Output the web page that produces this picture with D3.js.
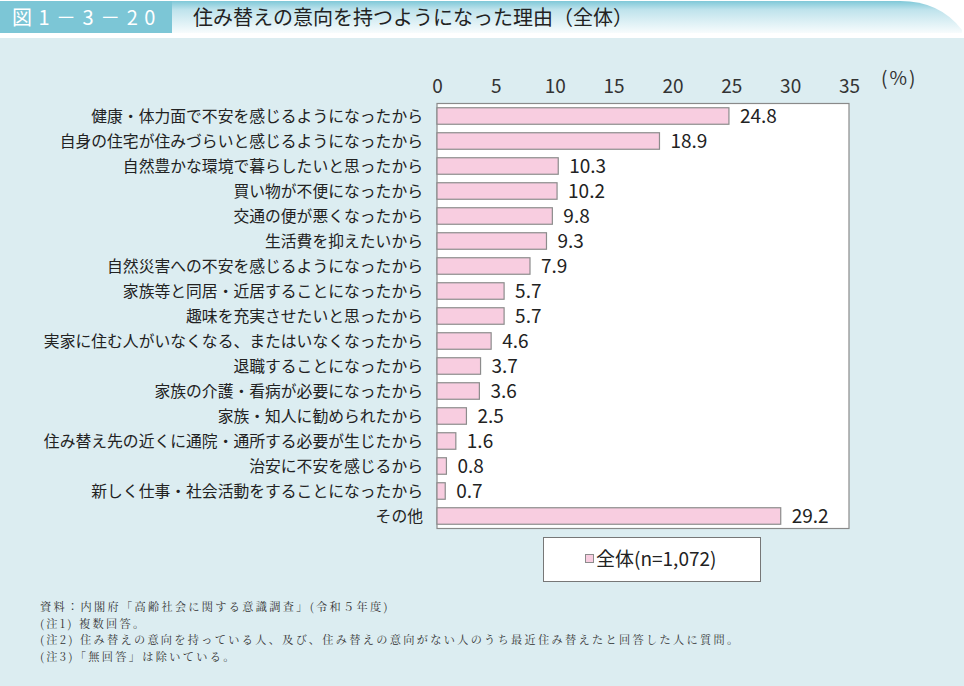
<!DOCTYPE html>
<html><head><meta charset="utf-8">
<script src="https://cdn.jsdelivr.net/npm/d3@7"></script>
<style>
body{margin:0;padding:0;background:#fff;}
svg{display:block;font-family:"Noto Sans CJK JP","Noto Sans",sans-serif;}
</style></head>
<body><svg id="c" width="964" height="686"></svg>
<script>
const categories = [
 "健康・体力面で不安を感じるようになったから",
 "自身の住宅が住みづらいと感じるようになったから",
 "自然豊かな環境で暮らしたいと思ったから",
 "買い物が不便になったから",
 "交通の便が悪くなったから",
 "生活費を抑えたいから",
 "自然災害への不安を感じるようになったから",
 "家族等と同居・近居することになったから",
 "趣味を充実させたいと思ったから",
 "実家に住む人がいなくなる、またはいなくなったから",
 "退職することになったから",
 "家族の介護・看病が必要になったから",
 "家族・知人に勧められたから",
 "住み替え先の近くに通院・通所する必要が生じたから",
 "治安に不安を感じるから",
 "新しく仕事・社会活動をすることになったから",
 "その他"
];
const values = [24.8,18.9,10.3,10.2,9.8,9.3,7.9,5.7,5.7,4.6,3.7,3.6,2.5,1.6,0.8,0.7,29.2];
const ticks = [0,5,10,15,20,25,30,35];
const seriesName = "全体(n=1,072)";
const figNo = "図1－3－20";
const title = "住み替えの意向を持つようになった理由（全体）";
const notes = [
 "資料：内閣府「高齢社会に関する意識調査」(令和５年度)",
 "(注1) 複数回答。",
 "(注2) 住み替えの意向を持っている人、及び、住み替えの意向がない人のうち最近住み替えたと回答した人に質問。",
 "(注3)「無回答」は除いている。"
];

const svg = d3.select("#c");
const defs = svg.append("defs");
const g1 = defs.append("linearGradient").attr("id","hg").attr("x1",0).attr("y1",0).attr("x2",0).attr("y2",1);
g1.append("stop").attr("offset","0%").attr("stop-color","#7fc8d8");
g1.append("stop").attr("offset","25%").attr("stop-color","#bfe3ec");
g1.append("stop").attr("offset","100%").attr("stop-color","#ffffff");

svg.append("rect").attr("x",0).attr("y",0).attr("width",964).attr("height",686).attr("fill","#fff");
svg.append("path").attr("d","M0,1 L900,1 Q940,1 962,30 L962,36 L0,36 Z").attr("fill","url(#hg)");
svg.append("rect").attr("x",0).attr("y",33).attr("width",964).attr("height",5).attr("fill","#fff");
svg.append("rect").attr("x",0).attr("y",38).attr("width",964).attr("height",648).attr("fill","#dcedf1");
svg.append("rect").attr("x",0).attr("y",1).attr("width",172).attr("height",32).attr("fill","#7cc6d6");
svg.append("text").attr("x",12).attr("y",25).attr("fill","#fff").attr("font-size",20)
  .attr("letter-spacing",6.5).text(figNo);
svg.append("text").attr("x",193).attr("y",25).attr("fill","#222").attr("font-size",20).text(title);

const x = d3.scaleLinear().domain([0,35]).range([437,849]);
const y = d3.scaleBand().domain(categories).range([103.5,528.5]).paddingInner(0.34).paddingOuter(0.17);

svg.append("rect").attr("x",x(0)).attr("y",103.5).attr("width",x(35)-x(0)).attr("height",425)
  .attr("fill","#fff").attr("stroke","#8a8a8a").attr("stroke-width",1.2);

const ax = d3.axisTop(x).tickValues(ticks).tickSize(0).tickPadding(0);
const axg = svg.append("g").attr("transform","translate(0,93)").call(ax);
axg.select(".domain").remove();
axg.selectAll("text").attr("font-size",19).attr("fill","#333").attr("font-family","'Noto Sans CJK JP',sans-serif");
svg.append("text").attr("x",881).attr("y",85).attr("font-size",19).attr("letter-spacing",2).attr("fill","#333").text("(%)");

svg.selectAll("rect.bar").data(values).enter().append("rect").attr("class","bar")
  .attr("x",x(0)).attr("y",(d,i)=>y(categories[i])).attr("width",d=>x(d)-x(0)).attr("height",y.bandwidth())
  .attr("fill","#f8cde0").attr("stroke","#8c8c8c").attr("stroke-width",1.2);

svg.selectAll("text.val").data(values).enter().append("text").attr("class","val")
  .attr("x",d=>x(d)+11).attr("y",(d,i)=>y(categories[i])+y.bandwidth()/2).attr("dy","0.36em")
  .attr("font-size",19).attr("fill","#222").text(d=>d.toFixed(1));

svg.selectAll("text.cat").data(categories).enter().append("text").attr("class","cat")
  .attr("x",423).attr("y",d=>y(d)+y.bandwidth()/2).attr("dy","0.36em").attr("text-anchor","end")
  .attr("font-size",15.8).attr("fill","#222").text(d=>d);

svg.append("rect").attr("x",543.5).attr("y",537.5).attr("width",217).attr("height",44)
  .attr("fill","#fff").attr("stroke","#777").attr("stroke-width",1);
svg.append("rect").attr("x",585.5).attr("y",554.5).attr("width",8).attr("height",8)
  .attr("fill","#f8cde0").attr("stroke","#8c8c8c");
svg.append("text").attr("x",596).attr("y",559).attr("dy","0.36em").attr("font-size",19).attr("fill","#222").text(seriesName);

svg.selectAll("text.note").data(notes).enter().append("text").attr("class","note")
  .attr("x",40).attr("y",(d,i)=>611+i*16.6).attr("font-size",11.2).attr("letter-spacing",2.3).attr("fill","#333")
  .attr("font-family","'Noto Serif CJK JP','Liberation Serif','Noto Sans CJK JP',serif").text(d=>d);
</script></body></html>
